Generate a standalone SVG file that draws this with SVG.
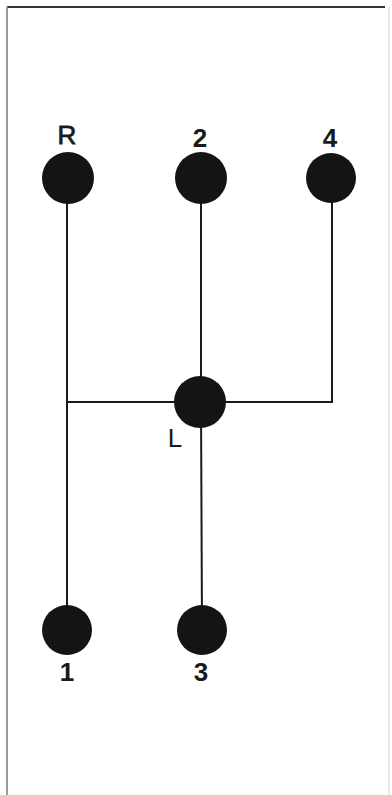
<svg xmlns="http://www.w3.org/2000/svg" width="392" height="795" viewBox="0 0 392 795">
<style>
.lnk{stroke:#1a1a1a;stroke-width:2;fill:none}
.dot{fill:#141414}
.lb{font-family:"Liberation Sans",Arial,sans-serif;font-size:26px;fill:#1a1a1a;text-anchor:middle}
.b{font-weight:bold}
</style>
<rect width="392" height="795" fill="#ffffff"/>
<g id="frame">
<line x1="7" y1="7" x2="385" y2="7" stroke="#333" stroke-width="2"/>
<line x1="7" y1="7" x2="7" y2="795" stroke="#999" stroke-width="2"/>
<line x1="389" y1="7" x2="389" y2="795" stroke="#e0e0e0" stroke-width="1.5"/>
</g>
<g id="connectors">
<line class="lnk" x1="67" y1="178" x2="67" y2="630"/>
<line class="lnk" x1="201" y1="178" x2="201" y2="402"/>
<line class="lnk" x1="201" y1="402" x2="202" y2="630"/>
<line class="lnk" x1="332" y1="178" x2="332" y2="403"/>
<line class="lnk" x1="66" y1="402" x2="333" y2="402"/>
</g>
<g id="nodeR"><circle class="dot" cx="68" cy="178" r="26"/><text class="lb" x="67" y="144" stroke="#1a1a1a" stroke-width="0.8">R</text></g>
<g id="node2"><circle class="dot" cx="201" cy="178" r="26"/><text class="lb b" x="200" y="147">2</text></g>
<g id="node4"><circle class="dot" cx="331" cy="178" r="25"/><text class="lb b" x="330" y="147">4</text></g>
<g id="nodeL"><circle class="dot" cx="200" cy="402" r="26"/><text class="lb" x="175" y="447">L</text></g>
<g id="node1"><circle class="dot" cx="67" cy="630" r="25"/><text class="lb b" x="67" y="681">1</text></g>
<g id="node3"><circle class="dot" cx="202" cy="630" r="25"/><text class="lb b" x="201" y="681">3</text></g>
</svg>
